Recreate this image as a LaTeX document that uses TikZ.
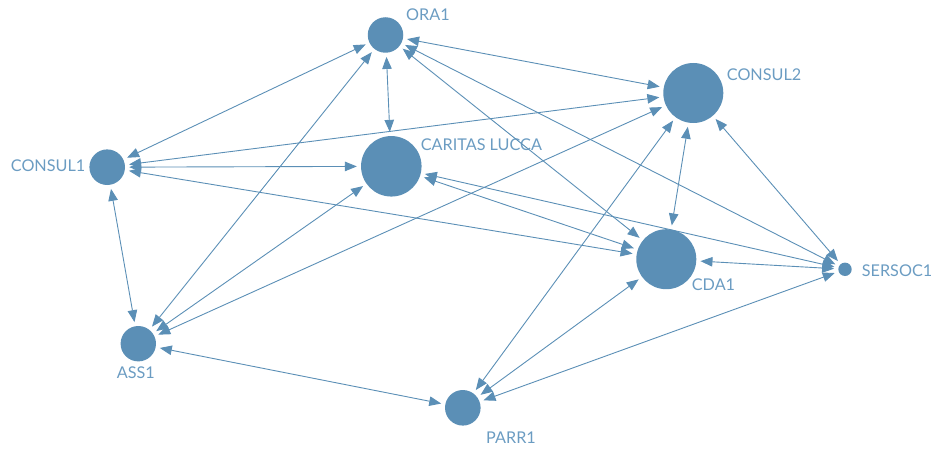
\documentclass[tikz,border=0pt]{standalone}
\usepackage{fontspec}
\setmainfont{Lato}
\usetikzlibrary{arrows.meta}
\definecolor{nodeblue}{HTML}{5B8FB6}
\definecolor{labelblue}{HTML}{6B9CC2}
\begin{document}
\begin{tikzpicture}[x=1pt,y=-1pt,
  vertex/.style={circle,fill=nodeblue,inner sep=0pt,draw=none},
  lbl/.style={text=labelblue,font=\fontsize{16.2}{16.2}\selectfont,inner sep=0pt,anchor=base west},
  link/.style={draw=nodeblue,line width=0.9pt,
    {Triangle[length=12pt,width=9.5pt]}-{Triangle[length=12pt,width=9.5pt]},
    shorten <=4pt,shorten >=4pt}]
\useasboundingbox (0,0) rectangle (934,452);
% nodes
\node[vertex,minimum size=35.5pt] (ora1) at (385.5,35) {};
\node[vertex,minimum size=60.5pt] (caritas) at (391.3,166.3) {};
\node[vertex,minimum size=60pt] (consul2) at (693.3,93) {};
\node[vertex,minimum size=60pt] (cda1) at (666.3,259.2) {};
\node[vertex,minimum size=13.4pt] (sersoc1) at (845,269.3) {};
\node[vertex,minimum size=35.6pt] (consul1) at (107.2,167.2) {};
\node[vertex,minimum size=35.4pt] (ass1) at (138.3,343.7) {};
\node[vertex,minimum size=35.6pt] (parr1) at (462.8,407.8) {};
% labels
\node[lbl] (lora1) at (406,20.7) {ORA1};
\node[lbl] (lcaritas) at (420.7,150.7) {CARITAS LUCCA};
\node[lbl] (lconsul2) at (726.7,80.7) {CONSUL2};
\node[lbl] (lcda1) at (691.7,290.7) {CDA1};
\node[lbl] (lsersoc1) at (861.7,276) {SERSOC1};
\node[lbl] (lconsul1) at (10.7,171.7) {CONSUL1};
\node[lbl] (lass1) at (116.7,378) {ASS1};
\node[lbl] (lparr1) at (486,443.3) {PARR1};
% links
\draw[link] (ora1) -- (consul1);
\draw[link] (ora1) -- (consul2);
\draw[link] (ora1) -- (caritas);
\draw[link] (ora1) -- (ass1);
\draw[link] (ora1) -- (cda1);
\draw[link] (ora1) -- (sersoc1);
\draw[link] (consul2) -- (consul1);
\draw[link] (consul2) -- (ass1);
\draw[link] (consul2) -- (cda1);
\draw[link] (consul2) -- (parr1);
\draw[link] (consul2) -- (sersoc1);
\draw[link] (consul1) -- (caritas);
\draw[link] (consul1) -- (cda1);
\draw[link] (consul1) -- (ass1);
\draw[link] (caritas) -- (ass1);
\draw[link] (caritas) -- (cda1);
\draw[link] (caritas) -- (sersoc1);
\draw[link] (cda1) -- (sersoc1);
\draw[link] (cda1) -- (parr1);
\draw[link] (ass1) -- (parr1);
\draw[link] (sersoc1) -- (parr1);
\end{tikzpicture}
\end{document}
